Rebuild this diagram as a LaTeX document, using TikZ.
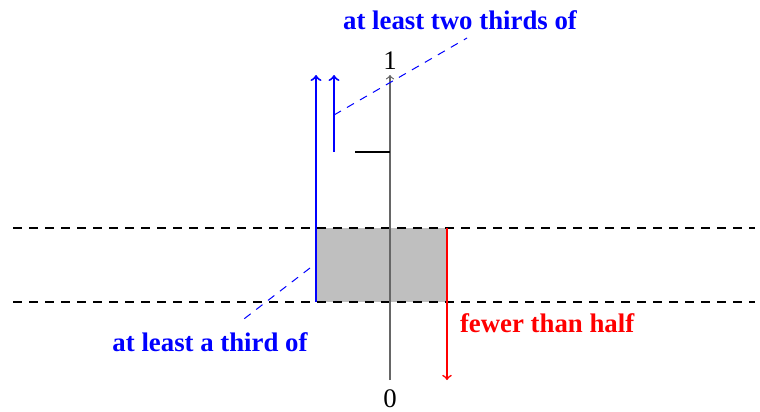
\documentclass[tikz,border=0pt]{standalone}
\usepackage{fontspec}
\setmainfont{Liberation Serif}
\usetikzlibrary{positioning}
\tikzstyle{axis} = [draw=black!60, line width=0.6pt, ->]
\tikzstyle{level} = [draw, line width=0.6pt, dash pattern=on 4.5pt off 3.5pt]
\tikzstyle{pointer} = [draw=blue, line width=0.5pt, dash pattern=on 4pt off 3.5pt]
\tikzstyle{bluelabel} = [text=blue, font=\fontsize{13.4}{15}\selectfont\bfseries]
\tikzstyle{redlabel} = [text=red, font=\fontsize{13.4}{15}\selectfont\bfseries]
\tikzstyle{endlabel} = [font=\fontsize{13.4}{15}\selectfont]

\begin{document}
\begin{tikzpicture}[x=0.5pt, y=-0.5pt]
\useasboundingbox (0,0) rectangle (760,412);

% Axis
\coordinate (bottom) at (390,380);
\coordinate (top) at (390,75);
\node (zero) [endlabel] at (390,399) {0};
\node (one) [endlabel] at (390,61) {1};

% Levels
\coordinate (lowleft) at (13,302);
\coordinate (lowright) at (755,302);
\coordinate (highleft) at (13,228);
\coordinate (highright) at (755,228);
\fill [lightgray] (316,228) rectangle (447,302);
\draw [level] (highleft) -- (highright);
\draw [level] (lowleft) -- (lowright);
\draw [axis] (bottom) -- (top);
\coordinate (tickleft) at (355,152);
\coordinate (tickright) at (390,152);
\draw [line width=0.6pt] (tickleft) -- (tickright);

% Arrows
\coordinate (blueA) at (316,302);
\coordinate (blueAtop) at (316,75);
\coordinate (blueB) at (334,152);
\coordinate (blueBtop) at (334,75);
\coordinate (redstart) at (447,228);
\coordinate (redend) at (447,380);
\draw [blue, line width=1pt, ->] (blueA) -- (blueAtop);
\draw [blue, line width=1pt, ->] (blueB) -- (blueBtop);
\draw [red, line width=0.8pt, ->] (redstart) -- (redend);

% Labels
\node (twothirds) [bluelabel] at (460,20) {at least two thirds of};
\node (third) [bluelabel] at (210,342) {at least a third of};
\node (half) [redlabel, anchor=west] at (453,323) {fewer than half};
\coordinate (twothirdsfoot) at (467,38);
\coordinate (twothirdsstart) at (334,115);
\coordinate (thirdfoot) at (240,322);
\coordinate (thirdstart) at (310,268);
\draw [pointer] (twothirdsstart) -- (twothirdsfoot);
\draw [pointer] (thirdstart) -- (thirdfoot);

\end{tikzpicture}
\end{document}
